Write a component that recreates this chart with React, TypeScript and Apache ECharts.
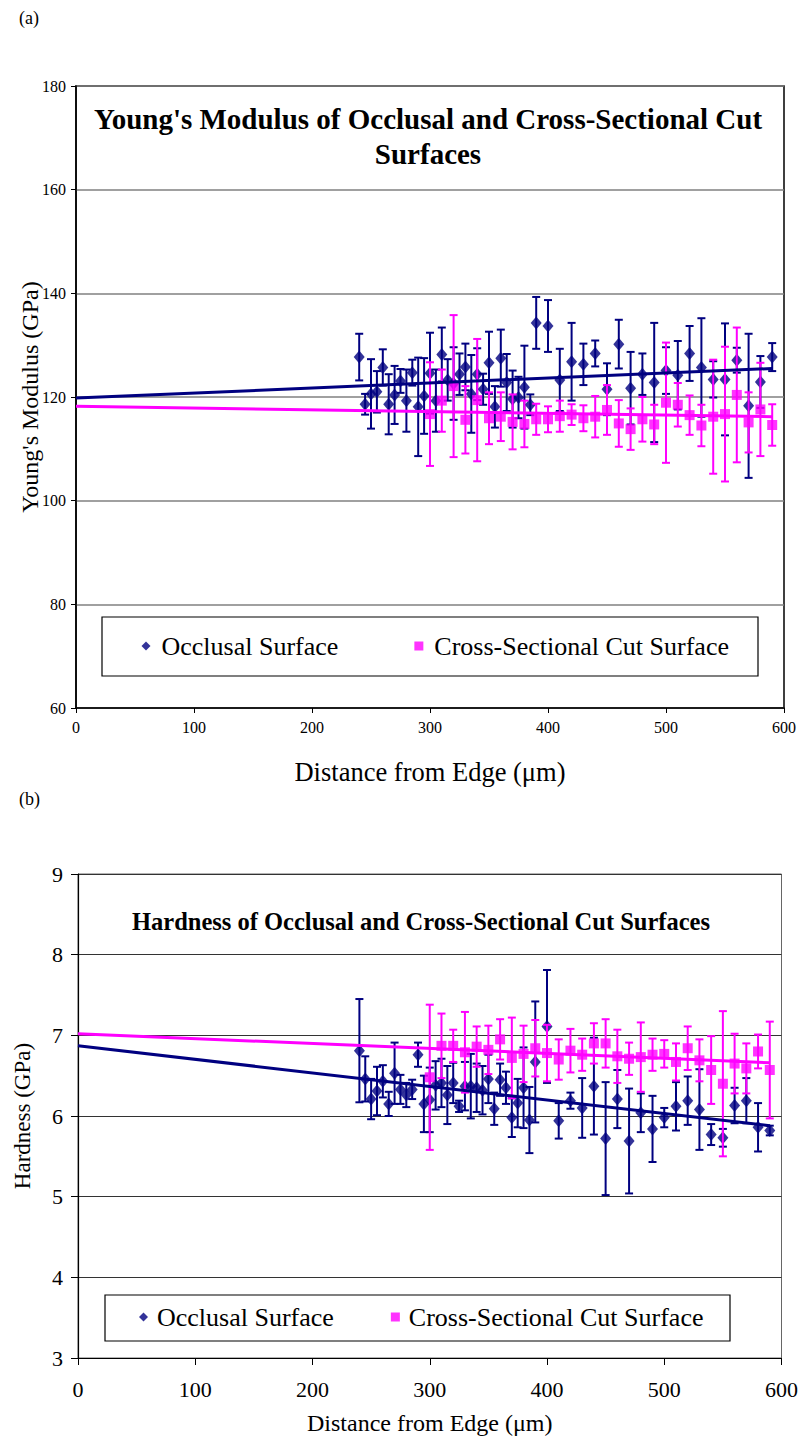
import React, { useEffect, useRef } from "react";
import * as echarts from "echarts";

// [distance µm, value, error half-width]
const modulusOcclusal: [number, number, number][] = [
  [240, 127.7, 4.5], [245, 118.6, 2.0], [250, 120.6, 6.7], [255, 121.0, 4.0], [260, 125.7, 3.5],
  [265, 118.6, 5.8], [270, 120.4, 5.6], [275, 123.1, 2.3], [280, 119.3, 6.0], [285, 124.7, 2.5],
  [290, 118.1, 9.5], [295, 120.2, 7.3], [300, 124.6, 7.8], [305, 119.3, 6.0], [310, 128.2, 5.2],
  [315, 123.3, 4.0], [320, 122.6, 7.0], [325, 124.4, 4.0], [330, 125.8, 4.5], [335, 120.6, 7.5],
  [340, 124.4, 5.0], [345, 121.5, 3.0], [350, 126.6, 6.0], [355, 118.1, 4.0], [360, 127.5, 5.5],
  [365, 122.8, 5.5], [370, 119.6, 5.5], [375, 119.9, 4.0], [380, 121.9, 8.0], [385, 118.5, 2.0],
  [390, 134.3, 5.0], [400, 133.7, 5.0], [410, 123.3, 6.0], [420, 126.8, 7.5], [430, 126.3, 4.0],
  [440, 128.4, 2.5], [450, 121.5, 5.0], [460, 130.2, 4.7], [470, 121.7, 7.0], [480, 124.4, 4.0],
  [490, 122.8, 11.5], [500, 125.1, 4.5], [510, 124.2, 6.6], [520, 128.4, 5.3], [530, 125.7, 9.5],
  [540, 123.4, 3.5], [550, 123.4, 10.8], [560, 127.1, 2.4], [570, 118.3, 13.9], [580, 122.9, 5.0],
  [590, 127.7, 2.7],
];

const modulusCross: [number, number, number][] = [
  [300, 116.7, 10.0], [310, 119.3, 6.0], [320, 122.1, 13.7], [330, 115.6, 6.5], [340, 119.4, 11.8],
  [350, 115.9, 5.0], [360, 116.2, 4.7], [370, 115.2, 5.3], [380, 114.8, 4.5], [390, 115.7, 3.0],
  [400, 115.7, 2.5], [410, 116.3, 3.0], [420, 116.6, 2.0], [430, 115.9, 2.5], [440, 116.2, 4.0],
  [450, 117.5, 4.8], [460, 114.9, 4.5], [470, 113.8, 4.0], [480, 115.7, 4.3], [490, 114.7, 3.8],
  [500, 118.9, 11.6], [510, 118.5, 4.2], [520, 116.5, 3.8], [530, 114.5, 4.0], [540, 116.2, 11.0],
  [550, 116.7, 13.0], [560, 120.4, 13.0], [570, 115.1, 5.8], [580, 117.6, 9.0], [590, 114.6, 4.0],
];

const hardnessOcclusal: [number, number, number][] = [
  [240, 6.81, 0.64], [245, 6.46, 0.28], [250, 6.21, 0.25], [255, 6.31, 0.3], [260, 6.43, 0.2],
  [265, 6.15, 0.15], [270, 6.53, 0.38], [275, 6.33, 0.18], [280, 6.26, 0.15], [285, 6.33, 0.12],
  [290, 6.76, 0.15], [295, 6.15, 0.35], [300, 6.2, 0.4], [305, 6.38, 0.3], [310, 6.41, 0.3],
  [315, 6.26, 0.36], [320, 6.41, 0.25], [325, 6.12, 0.07], [330, 6.37, 0.3], [335, 6.37, 0.4],
  [340, 6.35, 0.3], [345, 6.32, 0.3], [350, 6.46, 0.3], [355, 6.09, 0.2], [360, 6.45, 0.2],
  [365, 6.35, 0.2], [370, 5.98, 0.24], [375, 6.16, 0.3], [380, 6.35, 0.5], [385, 5.95, 0.41],
  [390, 6.67, 0.75], [400, 7.11, 0.7], [410, 5.94, 0.22], [420, 6.19, 0.1], [430, 6.1, 0.37],
  [440, 6.37, 0.6], [450, 5.72, 0.7], [460, 6.21, 0.36], [470, 5.69, 0.65], [480, 6.04, 0.24],
  [490, 5.84, 0.41], [500, 5.98, 0.12], [510, 6.12, 0.3], [520, 6.19, 0.3], [530, 6.08, 0.5],
  [540, 5.77, 0.13], [550, 5.73, 0.11], [560, 6.13, 0.22], [570, 6.19, 0.28], [580, 5.86, 0.3],
  [590, 5.82, 0.06],
];

const hardnessCross: [number, number, number][] = [
  [300, 6.48, 0.9], [310, 6.87, 0.4], [320, 6.87, 0.2], [330, 6.79, 0.5], [340, 6.86, 0.25],
  [350, 6.82, 0.3], [360, 6.95, 0.25], [370, 6.72, 0.5], [380, 6.77, 0.35], [390, 6.84, 0.35],
  [400, 6.78, 0.35], [410, 6.7, 0.25], [420, 6.81, 0.27], [430, 6.76, 0.2], [440, 6.9, 0.25],
  [450, 6.9, 0.3], [460, 6.74, 0.33], [470, 6.71, 0.2], [480, 6.73, 0.43], [490, 6.76, 0.2],
  [500, 6.77, 0.17], [510, 6.67, 0.23], [520, 6.84, 0.27], [530, 6.69, 0.26], [540, 6.57, 0.42],
  [550, 6.4, 0.9], [560, 6.65, 0.37], [570, 6.59, 0.31], [580, 6.8, 0.21], [590, 6.57, 0.6],
];

// linear trend lines (end points)
const modulusOcclusalTrend: [number, number][] = [[0, 119.8], [590, 125.5]];
const modulusCrossTrend: [number, number][] = [[0, 118.2], [590, 116.2]];
const hardnessOcclusalTrend: [number, number][] = [[0, 6.87], [590, 5.88]];
const hardnessCrossTrend: [number, number][] = [[0, 7.02], [590, 6.66]];

const NAVY = "#000080";
const PINK = "#FF00FF";
const FONT = "'Liberation Serif', 'Times New Roman', serif";
const OCC = "Occlusal Surface";
const CROSS = "Cross-Sectional Cut Surface";

function errRender(color: string, cap: number, lw: number) {
  return (params: any, api: any) => {
    const x = api.value(0);
    const y = api.value(1);
    const e = api.value(2);
    const t = api.coord([x, y + e]);
    const b = api.coord([x, y - e]);
    const style = { stroke: color, lineWidth: lw };
    return {
      type: "group",
      children: [
        { type: "line", shape: { x1: t[0], y1: t[1], x2: b[0], y2: b[1] }, style },
        { type: "line", shape: { x1: t[0] - cap, y1: t[1], x2: t[0] + cap, y2: t[1] }, style },
        { type: "line", shape: { x1: b[0] - cap, y1: b[1], x2: b[0] + cap, y2: b[1] }, style },
      ],
    };
  };
}

function seriesFor(idx: number, occ: any[], cross: any[], occT: any[], crossT: any[]) {
  const ax = { xAxisIndex: idx, yAxisIndex: idx };
  return [
    { ...ax, type: "custom", renderItem: errRender(NAVY, 4, 2), data: occ, encode: { x: 0, y: 1 }, z: 2, silent: true },
    { ...ax, type: "scatter", name: OCC, data: occ.map((d) => [d[0], d[1]]), symbol: "diamond", symbolSize: [11, 13], itemStyle: { color: NAVY }, z: 3 },
    { ...ax, type: "custom", renderItem: errRender(PINK, 4, 2), data: cross, encode: { x: 0, y: 1 }, z: 4, silent: true },
    { ...ax, type: "scatter", name: CROSS, data: cross.map((d) => [d[0], d[1]]), symbol: "rect", symbolSize: 10, itemStyle: { color: PINK }, z: 5 },
    { ...ax, type: "line", data: occT, symbol: "none", lineStyle: { color: NAVY, width: 3 }, z: 6, silent: true },
    { ...ax, type: "line", data: crossT, symbol: "none", lineStyle: { color: PINK, width: 3 }, z: 6, silent: true },
  ];
}

export default function App() {
  const ref = useRef<HTMLDivElement>(null);
  useEffect(() => {
    if (!ref.current) return;
    const chart = echarts.init(ref.current, undefined, { renderer: "svg" });
    const txt = { fontFamily: FONT, color: "#000" };
    const option: any = {
      animation: false,
      backgroundColor: "#fff",
      title: [
        {
          text: "Young's Modulus of Occlusal and Cross-Sectional Cut\nSurfaces",
          left: 428, top: 101, textAlign: "center", padding: 0,
          textStyle: { ...txt, fontSize: 29, fontWeight: "bold", lineHeight: 35 },
        },
        {
          text: "Hardness of Occlusal and Cross-Sectional Cut Surfaces",
          left: 421, top: 909, textAlign: "center", padding: 0,
          textStyle: { ...txt, fontSize: 24.5, fontWeight: "bold" },
        },
      ],
      legend: [
        {
          left: 141.5, top: 633, padding: 0, itemWidth: 9, itemHeight: 9, itemGap: 76,
          textStyle: { ...txt, fontSize: 26, padding: [0, 0, 0, 6] },
          data: [
            { name: OCC, icon: "diamond", itemStyle: { color: NAVY } },
            { name: CROSS, icon: "rect", itemStyle: { color: PINK } },
          ],
        },
        {
          left: 139, top: 1304, padding: 0, itemWidth: 9, itemHeight: 9, itemGap: 57,
          textStyle: { ...txt, fontSize: 26, padding: [0, 0, 0, 4] },
          data: [
            { name: OCC, icon: "diamond", itemStyle: { color: NAVY } },
            { name: CROSS, icon: "rect", itemStyle: { color: PINK } },
          ],
        },
      ],
      graphic: [
        { type: "text", left: 19, top: 9, style: { text: "(a)", font: `18px ${FONT}`, fill: "#000" } },
        { type: "text", left: 19, top: 790, style: { text: "(b)", font: `18px ${FONT}`, fill: "#000" } },
        { type: "rect", shape: { x: 102, y: 617, width: 656, height: 59 }, style: { fill: "none", stroke: "#000", lineWidth: 1.2 }, z: 10 },
        { type: "rect", shape: { x: 105, y: 1295, width: 625, height: 46 }, style: { fill: "none", stroke: "#000", lineWidth: 1.2 }, z: 10 },
      ],
      grid: [
        { left: 76, right: 17, top: 86, height: 622, show: true, borderColor: "#000", borderWidth: 1.5, backgroundColor: "transparent" },
        { left: 78, right: 19, top: 874, height: 484, show: true, borderColor: "#666", borderWidth: 1, backgroundColor: "transparent" },
      ],
      xAxis: [
        {
          gridIndex: 0, type: "value", min: 0, max: 600, interval: 100,
          name: "Distance from Edge (\u03bcm)", nameLocation: "middle", nameGap: 50,
          nameTextStyle: { ...txt, fontSize: 26.5 },
          axisLine: { lineStyle: { color: "#000", width: 1.5 } },
          axisTick: { show: true, inside: false, length: 5, lineStyle: { color: "#000" } },
          axisLabel: { ...txt, fontSize: 16, margin: 11 },
          splitLine: { show: false },
        },
        {
          gridIndex: 1, type: "value", min: 0, max: 600, interval: 100,
          name: "Distance from Edge (\u03bcm)", nameLocation: "middle", nameGap: 53,
          nameTextStyle: { ...txt, fontSize: 24 },
          axisLine: { lineStyle: { color: "#000", width: 1.2 } },
          axisTick: { show: true, inside: false, length: 7, lineStyle: { color: "#000" } },
          axisLabel: { ...txt, fontSize: 22, margin: 20 },
          splitLine: { show: false },
        },
      ],
      yAxis: [
        {
          gridIndex: 0, type: "value", min: 60, max: 180, interval: 20,
          name: "Young's Modulus (GPa)", nameLocation: "middle", nameGap: 34, nameMoveOverlap: false,
          nameTextStyle: { ...txt, fontSize: 24 },
          axisLine: { show: true, lineStyle: { color: "#000", width: 1.5 } },
          axisTick: { show: true, inside: false, length: 5, lineStyle: { color: "#000" } },
          axisLabel: { ...txt, fontSize: 16, margin: 10 },
          splitLine: { show: true, lineStyle: { color: "#808080", width: 1.5 } },
        },
        {
          gridIndex: 1, type: "value", min: 3, max: 9, interval: 1,
          name: "Hardness (GPa)", nameLocation: "middle", nameGap: 44,
          nameTextStyle: { ...txt, fontSize: 23 },
          axisLine: { show: true, lineStyle: { color: "#000", width: 1.2 } },
          axisTick: { show: true, inside: false, length: 7, lineStyle: { color: "#000" } },
          axisLabel: { ...txt, fontSize: 22, margin: 15 },
          splitLine: { show: true, lineStyle: { color: "#333", width: 1 } },
        },
      ],
      series: [
        ...seriesFor(0, modulusOcclusal, modulusCross, modulusOcclusalTrend, modulusCrossTrend),
        ...seriesFor(1, hardnessOcclusal, hardnessCross, hardnessOcclusalTrend, hardnessCrossTrend),
      ],
    };
    chart.setOption(option);
    return () => chart.dispose();
  }, []);
  return (
    <div
      ref={ref}
      style={{ position: "absolute", left: 0, top: 0, width: 801, height: 1447, background: "#fff" }}
    />
  );
}
